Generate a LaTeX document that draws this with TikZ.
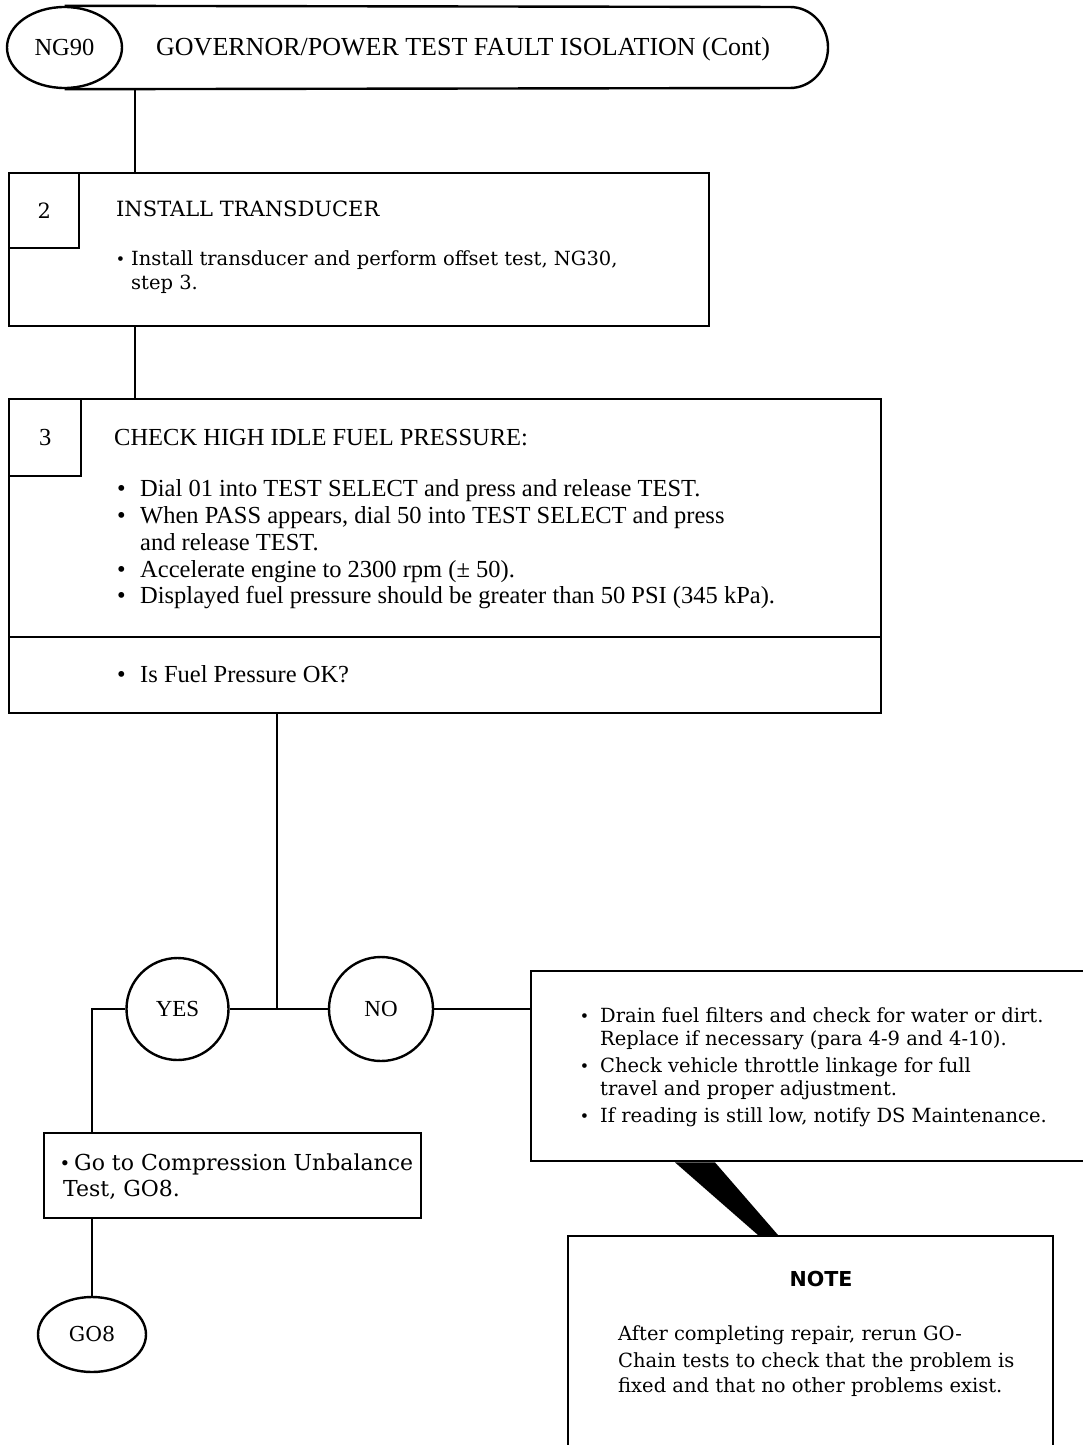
\documentclass[tikz,border=0pt]{standalone}
\usepackage{fontspec}
\setmainfont{Liberation Serif}
\newfontfamily\cent{DejaVu Serif}
\newfontfamily\notefont{DejaVu Sans}
\usetikzlibrary{shapes.geometric}
\newcommand\mybul{{\rmfamily\textbullet}}
\begin{document}
\begin{tikzpicture}[x=1pt,y=-1pt, line width=2.4pt,
  box/.style={draw, rectangle, inner sep=0pt, anchor=north west},
  ln/.style={anchor=base west, inner sep=0pt},
  tms/.style={font=\fontsize{24.5}{26.5}\selectfont},
  cen/.style={font=\cent\fontsize{19.5}{24}\selectfont},
  decision/.style={draw, circle, inner sep=0pt, font=\fontsize{23}{25}\selectfont}]
\fill[white] (0,0) rectangle (1083,1445);
\useasboundingbox (0,0) rectangle (1083,1445);

% header
\node[draw, ellipse, minimum width=115, minimum height=81, inner sep=0pt, tms] (ng90) at (64.5,47.5) {NG90};
\draw (ng90.north) -- (790,7) arc[start angle=-90, end angle=90, x radius=38, y radius=40.5] -- (ng90.south);
\node[ln, font=\fontsize{26}{28}\selectfont] (title) at (155,56) {GOVERNOR/POWER TEST FAULT ISOLATION (Cont)};

% box 2
\node[box, minimum width=700, minimum height=153] (box2) at (8,172) {};
\node[box, minimum width=70, minimum height=75, font=\cent\fontsize{21}{24}\selectfont] (num2) at (8,172) {2};
\node[ln, font=\cent\fontsize{21}{24}\selectfont] (t2) at (115,216) {INSTALL TRANSDUCER};
\node[ln, cen] (b2a) at (116,265) {\mybul};
\node[ln, cen] (l2a) at (130,265) {Install transducer and perform offset test, NG30,};
\node[ln, cen] (l2b) at (130,289) {step 3.};

\coordinate (hdrjoin) at (135,88);
\draw (hdrjoin) -- (hdrjoin |- box2.north);

% box 3
\node[box, minimum width=872, minimum height=314] (box3) at (8,398) {};
\node[box, minimum width=72, minimum height=77, tms] (num3) at (8,398) {3};
\coordinate (b2join) at (135,325);
\draw (b2join) -- (b2join |- box3.north);
\node[ln, tms] (t3) at (113,445) {CHECK HIGH IDLE FUEL PRESSURE:};
\node[ln, tms] (b3a) at (116,496) {\mybul};
\node[ln, tms] (l3a) at (139,496) {Dial 01 into TEST SELECT and press and release TEST.};
\node[ln, tms] (b3b) at (116,523.5) {\mybul};
\node[ln, tms] (l3b) at (139,523.5) {When PASS appears, dial 50 into TEST SELECT and press};
\node[ln, tms] (l3c) at (139,550) {and release TEST.};
\node[ln, tms] (b3d) at (116,577) {\mybul};
\node[ln, tms] (l3d) at (139,577) {Accelerate engine to 2300 rpm (± 50).};
\node[ln, tms] (b3e) at (116,603) {\mybul};
\node[ln, tms] (l3e) at (139,603) {Displayed fuel pressure should be greater than 50 PSI (345 kPa).};
\coordinate (div3) at (8,637);
\draw (div3) -- (div3 -| box3.east);
\node[ln, tms] (b3f) at (116,682) {\mybul};
\node[ln, tms] (l3f) at (139,682) {Is Fuel Pressure OK?};

% decisions
\coordinate (j) at (277,1009);
\node[decision, minimum size=102] (yes) at (177.5,1009) {YES};
\node[decision, minimum size=104] (no) at (381,1009) {NO};
\draw (box3.south -| j) -- (j);
\draw (yes.east) -- (no.west);

% go box
\node[box, minimum width=377, minimum height=85] (gobox) at (43,1132) {};
\node[ln, font=\cent\fontsize{22}{26}\selectfont] (bg) at (60,1170) {\mybul};
\node[ln, font=\cent\fontsize{22}{26}\selectfont] (lga) at (73,1170) {Go to Compression Unbalance};
\node[ln, font=\cent\fontsize{22}{26}\selectfont] (lgb) at (62,1196) {Test, GO8.};
\draw (yes.west) -| ([xshift=49pt]gobox.north west);
\node[draw, ellipse, minimum width=108, minimum height=75, inner sep=0pt, font=\cent\fontsize{20.5}{24}\selectfont] (go8) at (92,1334.5) {GO8};
\draw (go8.north |- gobox.south) -- (go8.north);

% right box
\node[box, minimum width=600, minimum height=190] (rbox) at (530,970) {};
\draw (no.east) -- (no.east -| rbox.west);
\node[ln, cen] (br1) at (580,1022) {\mybul};
\node[ln, cen] (lr1) at (599,1022) {Drain fuel filters and check for water or dirt.};
\node[ln, cen] (lr2) at (599,1045) {Replace if necessary (para 4-9 and 4-10).};
\node[ln, cen] (br3) at (580,1072) {\mybul};
\node[ln, cen] (lr3) at (599,1072) {Check vehicle throttle linkage for full};
\node[ln, cen] (lr4) at (599,1095) {travel and proper adjustment.};
\node[ln, cen] (br5) at (580,1122) {\mybul};
\node[ln, cen] (lr5) at (599,1122) {If reading is still low, notify DS Maintenance.};

% note
\node[box, minimum width=485, minimum height=260] (note) at (567,1235) {};
\fill ([xshift=145pt]rbox.south west) -- ([xshift=185pt]rbox.south west)
  -- ([xshift=211pt]note.north west) -- ([xshift=191pt]note.north west) -- cycle;
\node[anchor=base, inner sep=0pt, font=\notefont\bfseries\fontsize{20.6}{24}\selectfont] (notehd) at (821,1286) {NOTE};
\node[ln, cen] (ln1) at (617,1340) {After completing repair, rerun GO-};
\node[ln, cen] (ln2) at (617,1367) {Chain tests to check that the problem is};
\node[ln, cen] (ln3) at (617,1392) {fixed and that no other problems exist.};
\end{tikzpicture}
\end{document}
